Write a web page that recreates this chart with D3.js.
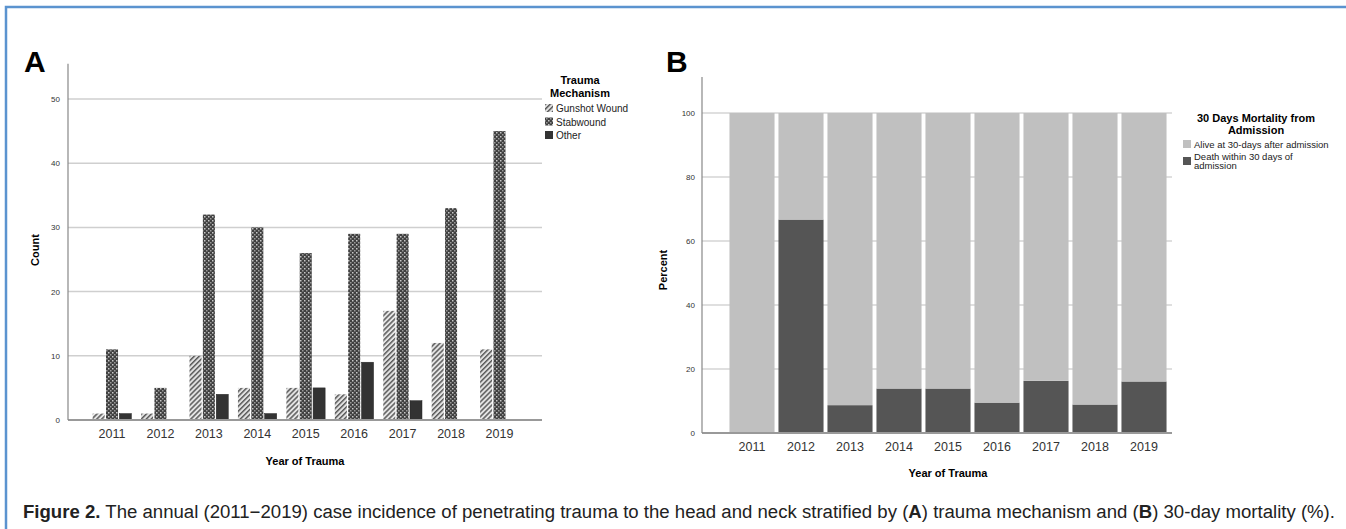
<!DOCTYPE html>
<html>
<head>
<meta charset="utf-8">
<script src="https://cdn.jsdelivr.net/npm/d3@7"></script>
<style>
  body { margin: 0; background: #fff; }
  svg { display: block; font-family: "Liberation Sans", Arial, sans-serif; }
</style>
</head>
<body>
<svg id="fig" width="1346" height="529"></svg>
<script>
// ---- data ----
var years = ["2011","2012","2013","2014","2015","2016","2017","2018","2019"];
var mechanisms = ["Gunshot Wound","Stabwound","Other"];
var gunshot = [1,1,10,5,5,4,17,12,11];
var stab = [11,5,32,30,26,29,29,33,45];
var other = [1,0,4,1,5,9,3,0,0];
var deathPct = [0,66.7,8.7,13.9,13.9,9.5,16.3,8.9,16.1];
var mortalityGroups = ["Alive at 30-days after admission","Death within 30 days of admission"];
var countTicks = [0,10,20,30,40,50];
var pctTicks = [0,20,40,60,80,100];

var svg = d3.select("#fig");

// frame
svg.append("path").attr("d","M6,529 V7 H1346").attr("fill","none")
   .attr("stroke","#5b93cf").attr("stroke-width",2.5);

// patterns
var defs = svg.append("defs");
var p1 = defs.append("pattern").attr("id","hatch").attr("width",3.5).attr("height",3.5)
   .attr("patternUnits","userSpaceOnUse").attr("patternTransform","rotate(45)");
p1.append("rect").attr("width",3.5).attr("height",3.5).attr("fill","#e4e4e4");
p1.append("rect").attr("width",1.5).attr("height",3.5).attr("fill","#5a5a5a");
var p2 = defs.append("pattern").attr("id","check").attr("width",4).attr("height",4)
   .attr("patternUnits","userSpaceOnUse");
p2.append("rect").attr("width",4).attr("height",4).attr("fill","#404040");
p2.append("rect").attr("x",0).attr("y",0).attr("width",1.5).attr("height",1.5).attr("fill","#c8c8c8");
p2.append("rect").attr("x",2).attr("y",2).attr("width",1.5).attr("height",1.5).attr("fill","#9a9a9a");
var fills = ["url(#hatch)","url(#check)","#333"];

// ================= Panel A =================
var gA = svg.append("g");
var yA = d3.scaleLinear().domain([0,50]).range([420,99]);
var xA = d3.scaleBand().domain(years).range([87.8,523.7]).paddingInner(0.2).paddingOuter(0.1);
var xSub = d3.scaleBand().domain(mechanisms).range([0,xA.bandwidth()]).paddingInner(0.1);

gA.selectAll("line.grid").data(countTicks.slice(1)).enter().append("line")
  .attr("x1",68).attr("x2",542).attr("y1",function(d){return yA(d);}).attr("y2",function(d){return yA(d);})
  .attr("stroke","#cfcfcf").attr("stroke-width",1.5);

var seriesA = [gunshot, stab, other];
years.forEach(function(yr,i){
  mechanisms.forEach(function(m,j){
    var v = seriesA[j][i];
    if (v <= 0) return;
    gA.append("rect")
      .attr("x", xA(yr)+xSub(m)).attr("width", xSub.bandwidth())
      .attr("y", yA(v)).attr("height", yA(0)-yA(v))
      .attr("fill", fills[j]).attr("stroke", j==2 ? "#222" : "none").attr("stroke-width",0.5);
  });
});

gA.append("line").attr("x1",68).attr("x2",542).attr("y1",yA(0)).attr("y2",yA(0))
  .attr("stroke","#999").attr("stroke-width",2);
gA.append("line").attr("x1",68).attr("x2",68).attr("y1",yA(0)).attr("y2",yA(55.5))
  .attr("stroke","#888").attr("stroke-width",1.2);

gA.selectAll("text.yt").data(countTicks).enter().append("text")
  .attr("x",60).attr("y",function(d){return yA(d)+3;}).attr("text-anchor","end")
  .attr("font-size",8).attr("fill","#333").text(function(d){return d;});
gA.selectAll("text.xt").data(years).enter().append("text")
  .attr("x",function(d){return xA(d)+xA.bandwidth()/2;}).attr("y",438).attr("text-anchor","middle")
  .attr("font-size",12.5).attr("fill","#333").text(function(d){return d;});
gA.append("text").attr("x",305).attr("y",465).attr("text-anchor","middle")
  .attr("font-size",11).attr("font-weight","bold").text("Year of Trauma");
gA.append("text").attr("transform","translate(39,250) rotate(-90)").attr("text-anchor","middle")
  .attr("font-size",11).attr("font-weight","bold").text("Count");
gA.append("text").attr("x",24).attr("y",72).attr("font-size",30).attr("font-weight","bold").text("A");

// legend A
gA.append("text").attr("x",580).attr("y",84).attr("text-anchor","middle")
  .attr("font-size",11).attr("font-weight","bold").text("Trauma");
gA.append("text").attr("x",580).attr("y",97).attr("text-anchor","middle")
  .attr("font-size",11).attr("font-weight","bold").text("Mechanism");
mechanisms.forEach(function(m,j){
  var yy = 104 + j*13.5;
  gA.append("rect").attr("x",545).attr("y",yy).attr("width",8).attr("height",8).attr("fill",fills[j]);
  gA.append("text").attr("x",556).attr("y",yy+8).attr("font-size",10).attr("fill","#222").text(m);
});

// ================= Panel B =================
var gB = svg.append("g");
var yB = d3.scaleLinear().domain([0,100]).range([433,113]);
var xB = d3.scaleBand().domain(years).range([727.5,1168.5]).paddingInner(0.08).paddingOuter(0.04);
var colB = ["#c0c0c0","#555555"];

gB.selectAll("line.grid").data(pctTicks.slice(1)).enter().append("line")
  .attr("x1",702).attr("x2",1172).attr("y1",function(d){return yB(d);}).attr("y2",function(d){return yB(d);})
  .attr("stroke","#d4d4d4").attr("stroke-width",1.5);

var stackData = years.map(function(yr,i){ return {year: yr, death: deathPct[i], alive: 100-deathPct[i]}; });
var stacked = d3.stack().keys(["death","alive"])(stackData);
gB.selectAll("g.s").data(stacked).enter().append("g")
  .attr("fill",function(d){ return d.key=="alive" ? colB[0] : colB[1]; })
  .selectAll("rect").data(function(d){return d;}).enter().append("rect")
  .attr("x",function(d){return xB(d.data.year);}).attr("width",xB.bandwidth())
  .attr("y",function(d){return yB(d[1]);}).attr("height",function(d){return yB(d[0])-yB(d[1]);});

gB.append("line").attr("x1",702).attr("x2",1172).attr("y1",yB(0)).attr("y2",yB(0))
  .attr("stroke","#999").attr("stroke-width",2);
gB.append("line").attr("x1",702).attr("x2",702).attr("y1",yB(0)).attr("y2",77)
  .attr("stroke","#888").attr("stroke-width",1.2);

gB.selectAll("text.yt").data(pctTicks).enter().append("text")
  .attr("x",695).attr("y",function(d){return yB(d)+3;}).attr("text-anchor","end")
  .attr("font-size",8).attr("fill","#333").text(function(d){return d;});
gB.selectAll("text.xt").data(years).enter().append("text")
  .attr("x",function(d){return xB(d)+xB.bandwidth()/2;}).attr("y",451).attr("text-anchor","middle")
  .attr("font-size",12.5).attr("fill","#333").text(function(d){return d;});
gB.append("text").attr("x",948).attr("y",477).attr("text-anchor","middle")
  .attr("font-size",11).attr("font-weight","bold").text("Year of Trauma");
gB.append("text").attr("transform","translate(667,270) rotate(-90)").attr("text-anchor","middle")
  .attr("font-size",11).attr("font-weight","bold").text("Percent");
gB.append("text").attr("x",666).attr("y",72).attr("font-size",30).attr("font-weight","bold").text("B");

// legend B
gB.append("text").attr("x",1256).attr("y",122).attr("text-anchor","middle")
  .attr("font-size",11).attr("font-weight","bold").text("30 Days Mortality from");
gB.append("text").attr("x",1256).attr("y",134).attr("text-anchor","middle")
  .attr("font-size",11).attr("font-weight","bold").text("Admission");
gB.append("rect").attr("x",1183).attr("y",140).attr("width",8).attr("height",8).attr("fill",colB[0]);
gB.append("text").attr("x",1194).attr("y",148).attr("font-size",9.5).attr("fill","#222").text(mortalityGroups[0]);
gB.append("rect").attr("x",1183).attr("y",157).attr("width",8).attr("height",8).attr("fill",colB[1]);
gB.append("text").attr("x",1194).attr("y",160).attr("font-size",9.5).attr("fill","#222").text("Death within 30 days of");
gB.append("text").attr("x",1194).attr("y",169).attr("font-size",9.5).attr("fill","#222").text("admission");

// ================= caption =================
var cap = svg.append("text").attr("x",23).attr("y",518).attr("font-size",18)
  .attr("font-family","'Liberation Sans Narrow', 'Liberation Sans', Arial, sans-serif")
  .attr("fill","#222").attr("textLength",1312).attr("lengthAdjust","spacingAndGlyphs");
cap.append("tspan").attr("font-weight","bold").text("Figure 2.");
cap.append("tspan").text("  The annual (2011\u22122019) case incidence of penetrating trauma to the head and neck stratified by (");
cap.append("tspan").attr("font-weight","bold").text("A");
cap.append("tspan").text(") trauma mechanism and (");
cap.append("tspan").attr("font-weight","bold").text("B");
cap.append("tspan").text(") 30-day mortality (%).");
</script>
</body>
</html>
